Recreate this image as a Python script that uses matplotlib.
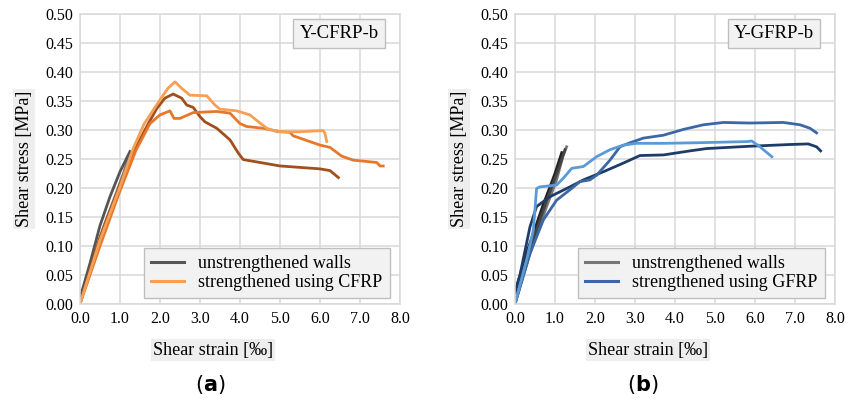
import numpy as np
import matplotlib
matplotlib.use("Agg")
import matplotlib.pyplot as plt

plt.rcParams["font.family"] = ["Liberation Serif", "DejaVu Serif"]
plt.rcParams["mathtext.fontset"] = "dejavusans"

# ---- (a) Y-CFRP-b ----
# unstrengthened walls (gray)
ua1_x = [0.0, 0.25, 0.5, 0.75, 1.0, 1.25]
ua1_y = [0.01, 0.07, 0.135, 0.185, 0.228, 0.263]
ua2_x = [0.0, 0.25, 0.6, 0.9, 1.1, 1.2]
ua2_y = [0.0, 0.06, 0.135, 0.19, 0.228, 0.25]

# strengthened using CFRP, light orange
c1_x = [0.0, 0.5, 1.0, 1.33, 1.6, 2.0, 2.2, 2.375, 2.54, 2.75, 3.17, 3.375, 3.5,
        3.92, 4.25, 4.5, 4.67, 4.92, 5.5, 6.08, 6.12, 6.17]
c1_y = [0.0, 0.11, 0.202, 0.268, 0.31, 0.352, 0.372, 0.383, 0.372, 0.36, 0.359,
        0.343, 0.336, 0.333, 0.326, 0.312, 0.303, 0.297, 0.297, 0.299, 0.295, 0.28]
# medium orange
c2_x = [0.0, 0.5, 1.0, 1.4, 1.75, 2.0, 2.25, 2.35, 2.5, 2.83, 3.42, 3.75, 4.0, 4.17,
        4.58, 5.0, 5.25, 5.33, 6.0, 6.25, 6.54, 6.83, 7.42, 7.5, 7.58]
c2_y = [0.0, 0.1, 0.195, 0.265, 0.311, 0.326, 0.333, 0.32, 0.32, 0.33, 0.332, 0.329,
        0.311, 0.306, 0.303, 0.297, 0.296, 0.29, 0.274, 0.27, 0.255, 0.248, 0.244,
        0.238, 0.238]
# dark orange-brown
c3_x = [0.0, 0.5, 1.0, 1.4, 1.7, 1.92, 2.125, 2.33, 2.54, 2.67, 2.83, 3.0, 3.125,
        3.42, 3.75, 3.96, 4.08, 4.5, 5.0, 6.0, 6.25, 6.46]
c3_y = [0.0, 0.115, 0.205, 0.27, 0.31, 0.337, 0.355, 0.362, 0.355, 0.343, 0.339,
        0.323, 0.314, 0.303, 0.283, 0.26, 0.249, 0.244, 0.238, 0.233, 0.23, 0.218]

# ---- (b) Y-GFRP-b ----
ub1_x = [0.0, 0.375, 0.79, 1.04, 1.2, 1.29]
ub1_y = [0.0, 0.087, 0.168, 0.214, 0.255, 0.271]
ub2_x = [0.0, 0.3, 0.7, 1.0, 1.17]
ub2_y = [0.02, 0.09, 0.17, 0.225, 0.261]
ub3_x = [0.0, 0.4, 0.8, 1.1, 1.25]
ub3_y = [0.0, 0.1, 0.18, 0.235, 0.266]

# strengthened using GFRP, navy
g1_x = [0.0, 0.125, 0.375, 0.54, 0.875, 1.375, 1.71, 2.21, 2.71, 3.125, 3.71,
        4.375, 4.79, 5.875, 6.875, 7.33, 7.54, 7.64]
g1_y = [0.02, 0.05, 0.133, 0.168, 0.185, 0.202, 0.214, 0.228, 0.243, 0.256, 0.257,
        0.264, 0.268, 0.272, 0.275, 0.276, 0.271, 0.264]
# medium blue
g2_x = [0.0, 0.375, 0.71, 1.04, 1.375, 1.625, 1.875, 2.04, 2.375, 2.625, 2.875,
        3.21, 3.71, 4.21, 4.71, 5.21, 5.875, 6.71, 7.125, 7.375, 7.54]
g2_y = [0.0, 0.087, 0.145, 0.179, 0.197, 0.211, 0.214, 0.222, 0.248, 0.271, 0.278,
        0.286, 0.291, 0.301, 0.309, 0.313, 0.312, 0.313, 0.309, 0.303, 0.295]
# light blue
g3_x = [0.0, 0.29, 0.46, 0.54, 0.625, 1.04, 1.21, 1.42, 1.71, 2.04, 2.375, 2.71,
        3.04, 3.71, 4.54, 5.79, 5.92, 6.125, 6.42]
g3_y = [0.0, 0.076, 0.128, 0.199, 0.202, 0.205, 0.217, 0.234, 0.237, 0.254, 0.266,
        0.274, 0.277, 0.277, 0.278, 0.28, 0.281, 0.271, 0.254]

x_ticks = np.arange(0, 8.01, 1.0)
y_ticks = np.arange(0, 0.501, 0.05)

fig = plt.figure(figsize=(8.58, 4.0), dpi=100)
ax1 = fig.add_axes([0.0932, 0.24, 0.373, 0.725])
ax2 = fig.add_axes([0.6002, 0.24, 0.373, 0.725])


def style_axes(ax):
    ax.set_xlim(0, 8)
    ax.set_ylim(0, 0.5)
    ax.set_xticks(x_ticks)
    ax.set_yticks(y_ticks)
    ax.set_xticklabels([f"{v:.1f}" for v in x_ticks])
    ax.set_yticklabels([f"{v:.2f}" for v in y_ticks])
    ax.tick_params(length=0, labelsize=11.5, pad=5)
    ax.grid(True, color="#d9d9d9", lw=1.1)
    ax.set_axisbelow(True)
    for s in ax.spines.values():
        s.set_color("#d9d9d9")
        s.set_linewidth(1.1)
    ax.set_ylabel("Shear stress [MPa]", fontsize=13, labelpad=9,
                  bbox=dict(facecolor="#eeeeee", edgecolor="none", pad=1.5))


style_axes(ax1)
style_axes(ax2)

lw = 2.0
ax1.plot(ua2_x, ua2_y, color="#7a7a7a", lw=lw)
ax1.plot(ua1_x, ua1_y, color="#555555", lw=lw, label="unstrengthened walls")
ax1.plot(c3_x, c3_y, color="#a24f1e", lw=lw)
ax1.plot(c2_x, c2_y, color="#e8772a", lw=lw)
ax1.plot(c1_x, c1_y, color="#f6a055", lw=lw, label="strengthened using CFRP")

ax2.plot(ub1_x, ub1_y, color="#777777", lw=lw, label="unstrengthened walls")
ax2.plot(ub2_x, ub2_y, color="#222222", lw=lw)
ax2.plot(ub3_x, ub3_y, color="#444444", lw=lw)
ax2.plot(g1_x, g1_y, color="#1f3c68", lw=lw)
ax2.plot(g2_x, g2_y, color="#3b68a4", lw=lw, label="strengthened using GFRP")
ax2.plot(g3_x, g3_y, color="#5a9ad6", lw=lw)

for ax, title in [(ax1, "Y-CFRP-b"), (ax2, "Y-GFRP-b")]:
    h, l = ax.get_legend_handles_labels()
    leg = ax.legend(h, l, loc="lower right", bbox_to_anchor=(0.968, 0.02),
                    fontsize=13, frameon=True, fancybox=False, handlelength=1.8,
                    borderpad=0.4, labelspacing=0.1, handletextpad=0.8,
                    borderaxespad=0)
    leg.get_frame().set_facecolor("#f2f2f2")
    leg.get_frame().set_edgecolor("#bfbfbf")
    leg.get_frame().set_alpha(1)
    for line in leg.get_lines():
        line.set_linewidth(2.2)
    ax.text(0.81, 0.932, title, transform=ax.transAxes, fontsize=13.5,
            ha="center", va="center",
            bbox=dict(boxstyle="square,pad=0.33", facecolor="#f2f2f2",
                      edgecolor="#bfbfbf", lw=1.0))

fig.text(213 / 858, 1 - 350 / 400, "Shear strain [‰]", fontsize=13,
         ha="center", va="center",
         bbox=dict(facecolor="#eeeeee", edgecolor="none", pad=1.5))
fig.text(648 / 858, 1 - 350 / 400, "Shear strain [‰]", fontsize=13,
         ha="center", va="center",
         bbox=dict(facecolor="#eeeeee", edgecolor="none", pad=1.5))
fig.text(210 / 858, 1 - 384 / 400, r"$(\mathbf{a})$", fontsize=15,
         ha="center", va="center")
fig.text(643 / 858, 1 - 384 / 400, r"$(\mathbf{b})$", fontsize=15,
         ha="center", va="center")

fig.savefig("out.png", dpi=100)
